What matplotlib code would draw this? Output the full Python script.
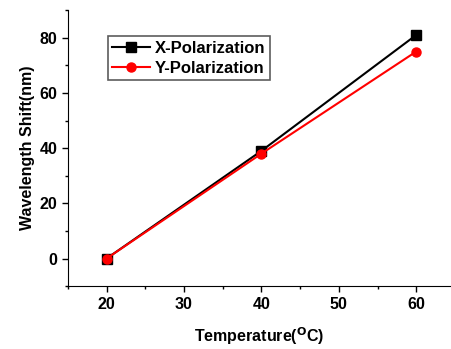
import matplotlib
matplotlib.use('Agg')
from matplotlib import pyplot as plt
from matplotlib.ticker import MultipleLocator

temp = [20, 40, 60]
x_pol = [0, 39, 81]
y_pol = [0, 38, 75]

plt.rcParams['font.family'] = ['Liberation Sans', 'DejaVu Sans']
plt.rcParams['font.weight'] = 'bold'

fig = plt.figure(figsize=(4.52, 3.49), dpi=100)
ax = fig.add_axes([0.150, 0.180, 0.848, 0.791])

ax.plot(temp, x_pol, color='black', marker='s', markersize=6.5, lw=1.5, label='X-Polarization')
ax.plot(temp, y_pol, color='red', marker='o', markersize=6.5, lw=1.5, label='Y-Polarization')

ax.set_xlim(15, 64.5)
ax.set_ylim(-10, 90)
ax.xaxis.set_major_locator(MultipleLocator(10))
ax.xaxis.set_minor_locator(MultipleLocator(5))
ax.yaxis.set_major_locator(MultipleLocator(20))
ax.yaxis.set_minor_locator(MultipleLocator(10))
ax.spines['top'].set_visible(False)
ax.spines['right'].set_visible(False)
ax.tick_params(which='major', length=4, width=1, labelsize=11.5)
ax.tick_params(which='minor', length=2.5, width=1)
for lab in ax.get_xticklabels() + ax.get_yticklabels():
    lab.set_fontweight('bold')

ax.set_xlabel('Temperature($\\mathbf{^{O}}$C)', fontsize=11.5, fontweight='bold', labelpad=10)
ax.set_ylabel('Wavelength Shift(nm)', fontsize=11.5, fontweight='bold', labelpad=3)

leg = ax.legend(loc='upper left', bbox_to_anchor=(0.104, 0.905), fontsize=12,
                frameon=True, fancybox=False, edgecolor='#333333', borderpad=0.25,
                handlelength=2.3, handletextpad=0.3, labelspacing=0.3, borderaxespad=0)
leg.get_frame().set_linewidth(1.2)

fig.savefig('out.png', dpi=100)
